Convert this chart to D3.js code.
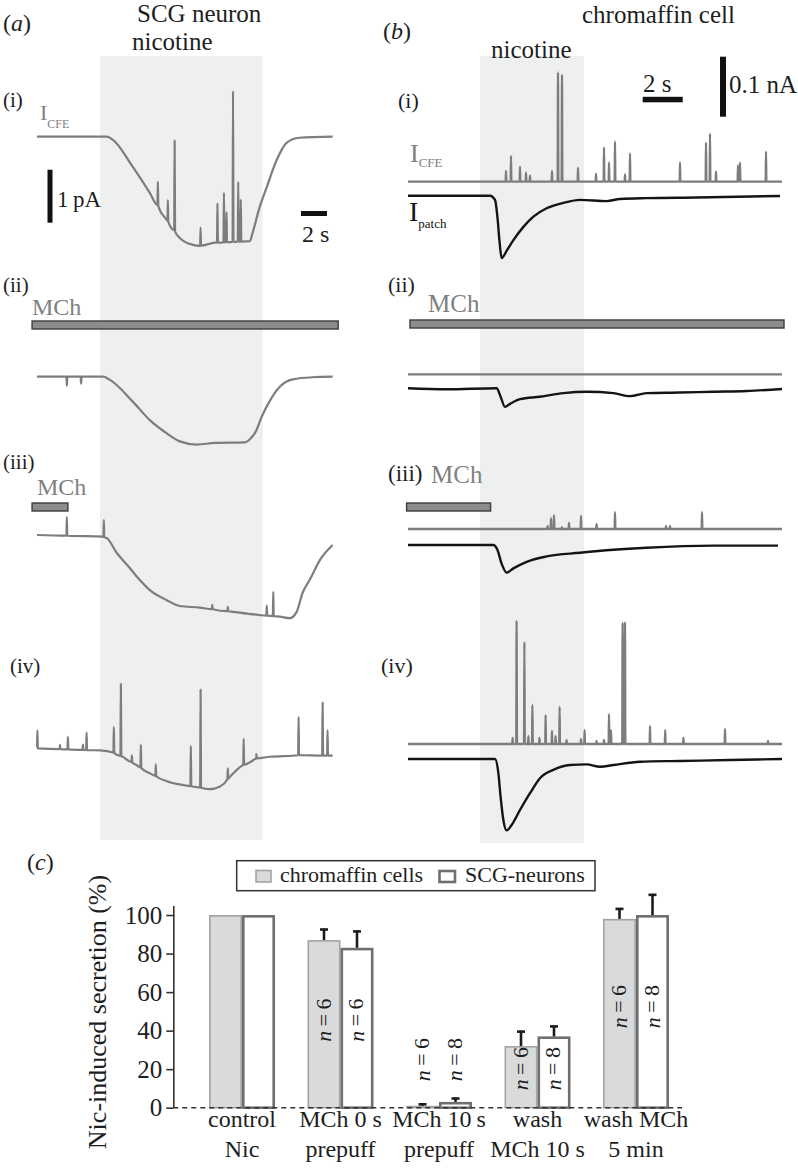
<!DOCTYPE html>
<html><head><meta charset="utf-8">
<script src="https://cdn.jsdelivr.net/npm/d3@7"></script>
<style>
body{margin:0;background:#fff;}
svg{display:block;}
text{font-family:"Liberation Serif","Times New Roman",serif;}
</style></head><body>
<svg id="c" width="798" height="1169" font-family="Liberation Serif, Times New Roman, serif"></svg>
<script>
// ================= DATA =================
// Panel (a) SCG neuron: [time s, I_CFE relative to pre-stimulus level (pA)]
const aTrace1 = [[0,0],[5.08,0],[5.38,0],[5.85,-0.06],[7.38,-0.57],[8.69,-1.06],[10.0,-1.57],[11.0,-1.91],[12.0,-2.04],[12.54,-2.06],[13.7,-2.0],[15.6,-1.98],[16.4,-1.97],[16.6,-1.82],[17.15,-1.33],[17.7,-0.95],[18.46,-0.44],[19.2,-0.12],[20.2,-0.02],[22.77,0]];
const aSpikes1 = [[9.31,0.45],[10.08,0.40],[10.6,1.70],[12.6,0.34],[13.9,0.74],[14.4,0.94],[14.6,0.57],[15.1,2.85],[15.5,1.13],[15.7,0.79]];
const aTrace2 = [[0,0],[5.08,0],[5.62,-0.06],[7.38,-0.47],[8.69,-0.82],[10.0,-1.07],[11.0,-1.22],[12.3,-1.28],[13.7,-1.25],[16.0,-1.24],[16.4,-1.18],[16.9,-1.01],[17.3,-0.76],[17.9,-0.47],[18.7,-0.19],[19.7,-0.05],[21.2,-0.01],[22.77,0]];
const aSpikes2 = [[2.3,-0.17],[3.4,-0.13]];
const aTrace3 = [[0,0],[5.08,-0.03],[5.38,-0.06],[6.15,-0.34],[7.0,-0.58],[7.92,-0.85],[8.69,-1.04],[10.0,-1.23],[11.0,-1.34],[12.54,-1.37],[15.1,-1.45],[17.15,-1.51],[18.7,-1.54],[19.46,-1.57],[20.0,-1.45],[20.46,-1.09],[21.0,-0.85],[21.8,-0.47],[22.77,-0.19]];
const aSpikes3 = [[2.3,0.35],[5.15,0.32],[13.5,0.08],[14.7,0.08],[17.7,0.19],[18.2,0.46]];
const aTrace4 = [[0,0],[3.3,-0.03],[4.85,-0.04],[5.85,-0.08],[6.6,-0.16],[7.7,-0.32],[8.69,-0.47],[10.0,-0.62],[11.2,-0.69],[12.54,-0.74],[13.3,-0.77],[14.1,-0.72],[14.85,-0.54],[15.85,-0.32],[16.9,-0.19],[17.9,-0.16],[20.2,-0.13],[22.77,-0.14]];
const aSpikes4 = [[0.03,0.34],[1.77,0.08],[2.38,0.24],[3.54,0.10],[3.82,0.33],[5.92,0.49],[6.46,1.36],[7.31,0.13],[8.0,0.43],[9.15,0.22],[11.85,0.76],[12.6,1.85],[14.7,0.20],[15.92,0.49],[16.9,0.08],[20.15,0.72],[22.0,1.0],[22.38,0.48]];
// MCh application bars in (a), [start s, end s]
const aMCh = [null,[-0.38,23.2],[-0.38,2.38],null];
const aNicotine = [4.85,17.38];

// Panel (b) chromaffin cell: [time s, current relative to baseline (pA)]
const bCFE = [[0,0],[18.7,0]];
const bSpikes1 = [[4.9,18],[5.15,43],[5.6,25],[5.9,15],[6.1,10],[7.2,18],[7.5,182],[7.7,178],[8.5,23],[9.4,13],[9.8,57],[10.05,32],[10.35,67],[10.85,12],[11.1,47],[13.6,32],[14.9,65],[15.1,80],[15.4,17],[16.5,27],[16.6,32],[17.9,50]];
const bSpikes2 = [];
const bSpikes3 = [[6.98,5],[7.15,18],[7.3,23],[7.7,3],[8.05,10],[8.65,22],[9.43,8],[10.35,28],[12.9,5],[13.1,5],[14.7,28]];
const bSpikes4 = [[5.23,10],[5.43,205],[5.82,170],[6.02,13],[6.22,65],[6.57,10],[6.88,48],[7.2,22],[7.38,13],[7.58,62],[7.93,7],[8.65,8],[8.83,23],[9.43,5],[9.8,7],[10.05,50],[10.15,23],[10.73,202],[10.85,203],[12.1,30],[12.86,23],[13.77,10],[15.85,25],[18.0,5]];
const bPatch1 = [[0,0],[4.1,0],[4.35,-7],[4.47,-35],[4.57,-74],[4.68,-104],[4.93,-92],[5.27,-74],[5.77,-52],[6.27,-35],[6.93,-21],[7.77,-12],[8.6,-7],[9.93,-9],[10.6,-5.5],[11.93,-4],[14.43,-3],[18.6,-0.5]];
const bPatch2 = [[0,0],[1.93,-1.7],[4.43,0],[4.63,-14],[4.85,-31],[5.1,-26],[5.6,-18],[6.6,-14],[7.77,-8],[8.93,-5.7],[10.27,-8],[11.1,-13],[11.93,-8],[13.6,-7],[15.27,-5.7],[16.93,-4.5],[18.7,-1.2]];
const bPatch3 = [[0,0],[4.27,0],[4.47,-8],[4.68,-31],[4.93,-46],[5.27,-39],[5.93,-28],[6.93,-19],[8.6,-13],[10.27,-8],[11.93,-4.5],[15.27,-1],[18.5,-1]];
const bPatch4 = [[0,0],[4.35,0],[4.52,-24],[4.63,-63],[4.77,-102],[4.93,-119],[5.18,-110],[5.6,-85],[6.1,-57],[6.6,-32],[7.27,-18],[8.1,-10],[8.93,-9],[9.6,-13],[10.27,-10],[11.6,-4.5],[13.6,-3.3],[16.1,-1.7],[18.7,0]];
const bMCh = [null,[0.1,18.8],[-0.07,4.13],null];
const bNicotine = [3.6,8.8];

// Panel (c) bar chart
const categories = ["control Nic","MCh 0 s prepuff","MCh 10 s prepuff","wash MCh 10 s","wash MCh 5 min"];
const catLine1 = ["control","MCh 0 s","MCh 10\u2009s","wash","wash MCh"];
const catLine2 = ["Nic","prepuff","prepuff","MCh 10 s","5 min"];
const seriesNames = ["chromaffin cells","SCG-neurons"];
const chromaffinVals = [100, 87, 1, 32, 98];
const chromaffinErr  = [0, 6, 1.3, 8, 5.7];
const scgVals = [100, 83, 3, 37, 100];
const scgErr  = [0, 9, 2.3, 5.7, 11];
const chromaffinN = [null, 6, 6, 6, 6];
const scgN = [null, 6, 8, 8, 8];
const yTicks = [0,20,40,60,80,100];

// ================= DRAW =================
const svg = d3.select("#c");
const GRAY = "#7d7d7d", BLACK = "#141414", SHADE = "#eeefef", TXT = "#1e1e1e";

function withSpikes(trace, spikes, dt){
  const ts = trace.map(d=>d[0]), vs = trace.map(d=>d[1]);
  const base = t => {
    const i = d3.bisectRight(ts, t);
    if (i <= 0) return vs[0];
    if (i >= ts.length) return vs[vs.length-1];
    const f = (t - ts[i-1])/(ts[i]-ts[i-1]);
    return vs[i-1] + f*(vs[i]-vs[i-1]);
  };
  const pts = trace.map(d=>[d[0], d[1]]);
  spikes.forEach(([t,h])=>{
    pts.push([Math.max(ts[0]+0.001,t-dt), base(t-dt)], [t+0.0001, base(t)+h], [t+dt, base(t+dt)]);
  });
  pts.sort((a,b)=>a[0]-b[0]);
  return pts;
}

// ---- Panel (a) ----
const aX = d3.scaleLinear().domain([0,22.8]).range([37,333]);
const aBase = [136.7, 376.7, 535, 748.3];
const aPx = 53; // px per pA
svg.append("rect").attr("x", aX(aNicotine[0])).attr("y",56).attr("width", aX(aNicotine[1])-aX(aNicotine[0])).attr("height",784).attr("fill",SHADE);

const aTraces = [[aTrace1,aSpikes1],[aTrace2,aSpikes2],[aTrace3,aSpikes3],[aTrace4,aSpikes4]];
aTraces.forEach(([tr,sp],i)=>{
  const y = d3.scaleLinear().domain([0,1]).range([aBase[i], aBase[i]-aPx]);
  const line = d3.line().x(d=>aX(d[0])).y(d=>y(d[1])).curve(d3.curveMonotoneX);
  svg.append("path").attr("d", line(withSpikes(tr,sp,0.035))).attr("fill","none").attr("stroke",GRAY).attr("stroke-width",2.2).attr("stroke-linejoin","round");
});

// ---- Panel (b) ----
const bX = d3.scaleLinear().domain([0,18.7]).range([408,782]);
const bGrayBase = [181.7, 374.3, 529, 744];
const bBlackBase = [195.7, 388.3, 545, 759];
const bPx = 0.6; // px per pA
svg.append("rect").attr("x", bX(bNicotine[0])).attr("y",56).attr("width", bX(bNicotine[1])-bX(bNicotine[0])).attr("height",787).attr("fill",SHADE);
const bCFESpikes = [bSpikes1,bSpikes2,bSpikes3,bSpikes4];
const bPatch = [bPatch1,bPatch2,bPatch3,bPatch4];
for (let i=0;i<4;i++){
  const yg = d3.scaleLinear().domain([0,100]).range([bGrayBase[i], bGrayBase[i]-100*bPx]);
  const yk = d3.scaleLinear().domain([0,100]).range([bBlackBase[i], bBlackBase[i]-100*bPx]);
  const lg = d3.line().x(d=>bX(d[0])).y(d=>yg(d[1])).curve(d3.curveMonotoneX);
  const lk = d3.line().x(d=>bX(d[0])).y(d=>yk(d[1])).curve(d3.curveMonotoneX);
  svg.append("path").attr("d", lg(withSpikes(bCFE,bCFESpikes[i],0.02))).attr("fill","none").attr("stroke",GRAY).attr("stroke-width",2.3).attr("stroke-linejoin","round");
  svg.append("path").attr("d", lk(bPatch[i])).attr("fill","none").attr("stroke",BLACK).attr("stroke-width",2.4).attr("stroke-linejoin","round");
}

// MCh bars
function mchBar(x, t0, t1, y){
  svg.append("rect").attr("x", x(t0)).attr("y", y).attr("width", x(t1)-x(t0)).attr("height", 8)
    .attr("fill","#8c8c8c").attr("stroke","#3c3c3c").attr("stroke-width",1.4);
}
mchBar(aX, aMCh[1][0], aMCh[1][1], 321);
mchBar(aX, aMCh[2][0], aMCh[2][1], 503);
mchBar(bX, bMCh[1][0], bMCh[1][1], 320);
mchBar(bX, bMCh[2][0], bMCh[2][1], 503);

// text helper
function txt(x,y,s,size,opts={}){
  const t = svg.append("text").attr("x",x).attr("y",y).attr("font-size",size)
    .attr("fill", opts.fill||TXT).text(s);
  if (opts.italic) t.attr("font-style","italic");
  if (opts.anchor) t.attr("text-anchor",opts.anchor);
  return t;
}
// headings
svg.append("text").attr("x",3).attr("y",31).attr("font-size",24).attr("fill",TXT)
  .html('(<tspan font-style="italic">a</tspan>)');
txt(137,22,"SCG neuron",25);
txt(132,50,"nicotine",25);
svg.append("text").attr("x",383).attr("y",39).attr("font-size",24).attr("fill",TXT)
  .html('(<tspan font-style="italic">b</tspan>)');
txt(582,23,"chromaffin cell",25);
txt(491,58,"nicotine",25);

// roman labels
txt(3,107,"(i)",21); txt(3,292,"(ii)",21); txt(3,469,"(iii)",21); txt(10,673,"(iv)",21);
txt(398,108,"(i)",22); txt(388,292,"(ii)",22); txt(388,481,"(iii)",23); txt(381,673,"(iv)",22);
// MCh labels
txt(32,315,"MCh",24,{fill:"#808080"});
txt(37,495,"MCh",24,{fill:"#808080"});
txt(428,312,"MCh",25,{fill:"#808080"});
txt(431,483,"MCh",25,{fill:"#808080"});
// I labels
svg.append("text").attr("x",40).attr("y",120).attr("font-size",22).attr("fill","#808080")
  .html('I<tspan font-size="12" dy="8">CFE</tspan>');
svg.append("text").attr("x",410).attr("y",162).attr("font-size",26).attr("fill","#808080")
  .html('I<tspan font-size="13" dy="5">CFE</tspan>');
svg.append("text").attr("x",409).attr("y",221).attr("font-size",28).attr("fill",BLACK)
  .html('I<tspan font-size="13" dy="7">patch</tspan>');

// scale bars (a)
svg.append("rect").attr("x",47.5).attr("y",aBase[0]+33).attr("width",5).attr("height",aPx).attr("fill","#111");
txt(57,207,"1\u2009pA",23);
svg.append("rect").attr("x",301).attr("y",211).attr("width",aX(2)-aX(0)).attr("height",5).attr("fill","#111");
txt(302,242,"2 s",24);
// scale bars (b)
svg.append("rect").attr("x",642.7).attr("y",96.8).attr("width",bX(2)-bX(0)).attr("height",5.5).attr("fill","#111");
txt(643,92,"2 s",25);
svg.append("rect").attr("x",720).attr("y",56.7).attr("width",6).attr("height",100*bPx).attr("fill","#111");
txt(729,93,"0.1 nA",25);

// ---- Panel (c) ----
svg.append("text").attr("x",27).attr("y",870).attr("font-size",24).attr("fill",TXT)
  .html('(<tspan font-style="italic">c</tspan>)');
const yC = d3.scaleLinear().domain([0,105]).range([1107.7,905.4]);
const xC = d3.scaleBand().domain(categories).range([159.75,718.25]).paddingInner(0.33).paddingOuter(0.5);
const xSub = d3.scaleBand().domain(seriesNames).range([0,xC.bandwidth()]);

const axis = d3.axisLeft(yC).tickValues(yTicks).tickSize(7).tickSizeOuter(0).tickPadding(4);
const gA = svg.append("g").attr("transform","translate(173.3,0)").call(axis);
gA.attr("font-family","Liberation Serif, Times New Roman, serif");
gA.select(".domain").attr("stroke","#333").attr("stroke-width",1.6);
gA.selectAll(".tick line").attr("stroke","#333").attr("stroke-width",1.6);
gA.selectAll(".tick text").attr("font-family","Liberation Serif, Times New Roman, serif").attr("font-size",25).attr("fill",TXT);

svg.append("text").attr("transform","translate(106,1012) rotate(-90)").attr("text-anchor","middle")
  .attr("font-size",26).attr("fill",TXT).text("Nic-induced secretion (%)");

// bars
const barData = [];
categories.forEach((c,i)=>{
  barData.push({cat:c, s:seriesNames[0], v:chromaffinVals[i], e:chromaffinErr[i], n:chromaffinN[i]});
  barData.push({cat:c, s:seriesNames[1], v:scgVals[i], e:scgErr[i], n:scgN[i]});
});
const styles = {
  "chromaffin cells": {fill:"#d9dadb", stroke:"#a3a3a3", sw:1.6},
  "SCG-neurons": {fill:"#ffffff", stroke:"#6f6f6f", sw:2.6}
};
barData.forEach(d=>{
  const st = styles[d.s];
  const x0 = xC(d.cat)+xSub(d.s), w = xSub.bandwidth();
  const yt = yC(d.v), yb = yC(0);
  svg.append("rect").attr("x",x0+st.sw/2).attr("y",yt+st.sw/2).attr("width",w-st.sw).attr("height",Math.max(0,yb-yt-st.sw/2))
    .attr("fill",st.fill).attr("stroke",st.stroke).attr("stroke-width",st.sw);
  if (d.e>0){
    const cx = x0+w/2;
    svg.append("line").attr("x1",cx).attr("x2",cx).attr("y1",yt).attr("y2",yC(d.v+d.e)).attr("stroke","#1c1c1c").attr("stroke-width",2.6);
    svg.append("line").attr("x1",cx-4).attr("x2",cx+4).attr("y1",yC(d.v+d.e)+1).attr("y2",yC(d.v+d.e)+1).attr("stroke","#1c1c1c").attr("stroke-width",2.6);
  }
});
// zero dashed line
svg.append("line").attr("x1",173.3).attr("x2",682).attr("y1",yC(0)).attr("y2",yC(0))
  .attr("stroke","#333").attr("stroke-width",1.5).attr("stroke-dasharray","5,4");

// n labels
categories.forEach((c,i)=>{
  if (chromaffinN[i]==null) return;
  const m = (chromaffinVals[i]+scgVals[i])/2;
  const yv = m < 10 ? 25 : m/2 + 3;
  [[seriesNames[0],chromaffinN[i]],[seriesNames[1],scgN[i]]].forEach(([s,n])=>{
    const cx = xC(c)+xSub(s)+xSub.bandwidth()/2 - 1;
    svg.append("text").attr("transform",`translate(${cx},${yC(yv)}) rotate(-90)`)
      .attr("text-anchor","middle").attr("dominant-baseline","central").attr("font-size",22).attr("fill",TXT)
      .html(`<tspan font-style="italic">n</tspan>\u2009=\u2009${n}`);
  });
});

// category labels
categories.forEach((c,i)=>{
  const cx = xC(c)+xC.bandwidth()/2;
  txt(cx,1127,catLine1[i],24,{anchor:"middle"});
  txt(cx,1157,catLine2[i],24,{anchor:"middle"});
});

// legend
svg.append("rect").attr("x",236.7).attr("y",860.7).attr("width",358.3).attr("height",30).attr("fill","#fff").attr("stroke","#333").attr("stroke-width",1.5);
svg.append("rect").attr("x",256).attr("y",870.5).attr("width",15).attr("height",11.5).attr("fill","#d9dadb").attr("stroke","#a3a3a3").attr("stroke-width",1.6);
txt(280,882,seriesNames[0],22);
svg.append("rect").attr("x",439.5).attr("y",871).attr("width",15.5).attr("height",11).attr("fill","#fff").attr("stroke","#6f6f6f").attr("stroke-width",2.6);
txt(465,882,seriesNames[1],22);
</script>
</body></html>
